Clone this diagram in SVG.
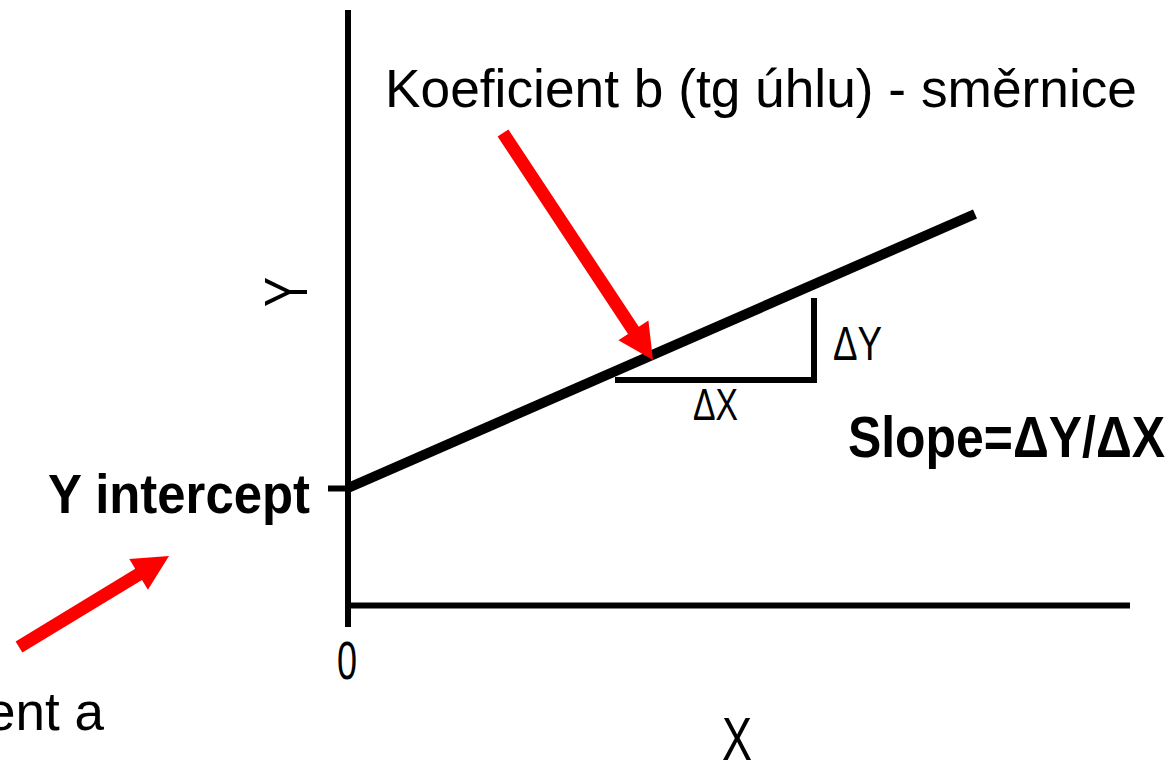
<svg xmlns="http://www.w3.org/2000/svg" width="1171" height="763" viewBox="0 0 1171 763">
<style>
.ax{stroke:#000;stroke-width:6;fill:none;stroke-linecap:butt}
.t{font-family:"Liberation Sans",Arial,sans-serif;fill:#000}
.b{font-weight:bold}
.arr{fill:#ff0000}
</style>
<rect width="1171" height="763" fill="#fff"/>
<g id="axes">
<line class="ax" x1="348" y1="10" x2="348" y2="627"/>
<line class="ax" x1="345" y1="605.5" x2="1130" y2="605.5"/>
<line class="ax" x1="328" y1="488.5" x2="348" y2="488.5"/>
</g>
<g id="regression-line">
<line x1="348" y1="488" x2="975" y2="214" stroke="#000" stroke-width="10"/>
</g>
<g id="slope-triangle">
<polyline class="ax" points="615,380 814,380 814,298"/>
<text class="t" x="833" y="360" font-size="48" textLength="49" lengthAdjust="spacingAndGlyphs">ΔY</text>
<text class="t" x="693" y="420" font-size="45" textLength="45" lengthAdjust="spacingAndGlyphs">ΔX</text>
</g>
<g id="labels">
<text class="t" transform="translate(307,292) rotate(-90)" text-anchor="middle" font-size="62" textLength="30" lengthAdjust="spacingAndGlyphs">Y</text>
<text class="t" x="337" y="679" font-size="54" textLength="20" lengthAdjust="spacingAndGlyphs">0</text>
<text class="t" x="722" y="760" font-size="62" textLength="30" lengthAdjust="spacingAndGlyphs">X</text>
<text class="t b" x="48" y="513" font-size="56" textLength="262" lengthAdjust="spacingAndGlyphs">Y intercept</text>
<text class="t b" x="848" y="457" font-size="58" textLength="317" lengthAdjust="spacingAndGlyphs">Slope=ΔY/ΔX</text>
<text class="t" x="385" y="107" font-size="53" textLength="752" lengthAdjust="spacingAndGlyphs">Koeficient b (tg úhlu) - směrnice</text>
<text class="t" x="104" y="730" font-size="53" text-anchor="end">Koeficient a</text>
</g>
<g id="connectors">
<polygon class="arr" points="508.4,129.4 638.8,326.8 648.4,320.5 653,360 618.4,340.3 628,334 497.6,136.6"/>
<polygon class="arr" points="15.6,641.4 135.2,568.8 129.3,559 169,556 147.9,589.8 142,580 22.4,652.6"/>
</g>
</svg>
